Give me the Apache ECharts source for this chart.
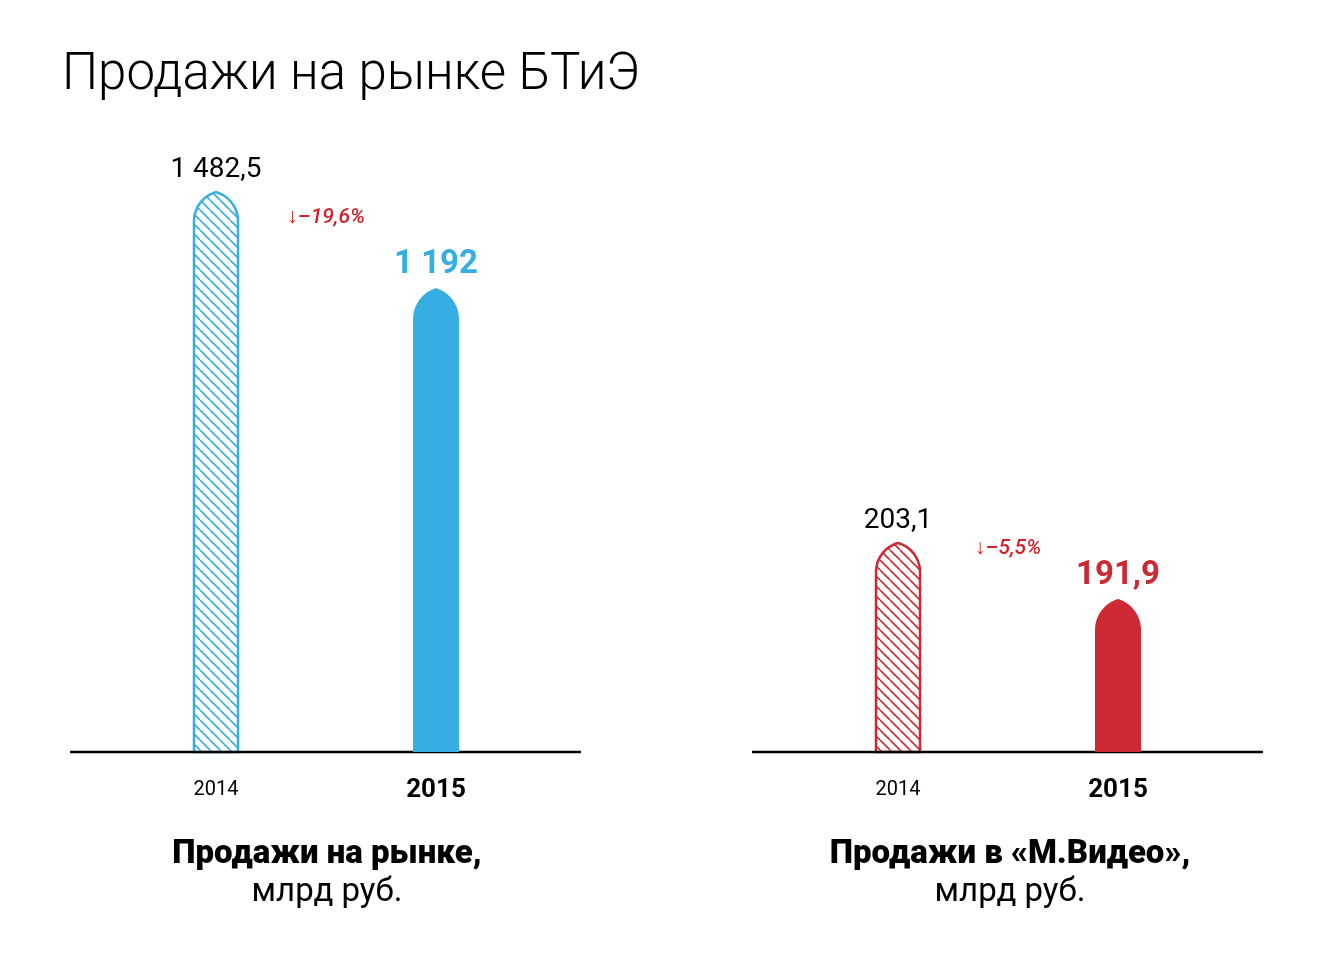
<!DOCTYPE html>
<html>
<head>
<meta charset="utf-8">
<script src="https://cdn.jsdelivr.net/npm/echarts@6/dist/echarts.min.js"></script>
<style>
html, body { margin: 0; background: #fff; }
#chart { width: 1342px; height: 964px; }
</style>
</head>
<body>
<div id="chart"></div>
<script>
var mainTitle = 'Продажи на рынке БТиЭ';
var years = ['2014', '2015'];
var marketSales = [1482.5, 1192];
var mvideoSales = [203.1, 191.9];
var panelTitles = ['Продажи на рынке,', 'Продажи в «М.Видео»,'];
var unitLabel = 'млрд руб.';
// axis ranges (the original chart is not drawn from zero)
var marketRange = [-212, 1610];
var mvideoRange = [161.3, 281.7];

var BLUE = '#36aee2', RED = '#cc2932';
var FONT = 'Roboto, "Noto Sans", sans-serif';

// diagonal hatch for the 2014 bars
function hatch(color) {
  var s = 10;
  var c = document.createElement('canvas');
  c.width = s; c.height = s;
  var ctx = c.getContext('2d');
  ctx.strokeStyle = color;
  ctx.lineWidth = 1.6;
  for (var k = -1; k <= 1; k++) {
    ctx.beginPath();
    ctx.moveTo(k * s, 0);
    ctx.lineTo(k * s + s, s);
    ctx.stroke();
  }
  return c;
}

function fmt(v) {
  var s = v.toFixed(v % 1 ? 1 : 0).replace('.', ',');
  return s.replace(/^(\d)(\d{3})/, '$1 $2');
}

// bar with a pointed top
function archPoints(cx, yTop, yb, w, h) {
  var r = (h * h + w * w / 4) / w;
  var ta = Math.acos((w / 2 - r) / r);
  var x0 = cx - w / 2, x1 = cx + w / 2, ys = yTop + h;
  var pts = [[x0, yb], [x0, ys]];
  var n = 16, k, t;
  for (k = 1; k <= n; k++) {
    t = Math.PI - (Math.PI - ta) * k / n;
    pts.push([x0 + r + r * Math.cos(t), ys - r * Math.sin(t)]);
  }
  for (k = n - 1; k >= 0; k--) {
    t = Math.PI - (Math.PI - ta) * k / n;
    pts.push([x1 - r - r * Math.cos(t), ys - r * Math.sin(t)]);
  }
  pts.push([x1, yb]);
  return pts;
}

function makeRender(color, values) {
  var pattern = hatch(color);
  return function (params, api) {
    var i = params.dataIndex;
    var cs = params.coordSys;
    var p = api.coord([api.value(0), api.value(1)]);
    var cx = p[0], yTop = p[1], yb = cs.y + cs.height;
    var kids = [];
    if (i === 0) {
      kids.push({
        type: 'polygon',
        shape: { points: archPoints(cx, yTop, yb, 44, 29) },
        style: { fill: { image: pattern, repeat: 'repeat' }, stroke: color, lineWidth: 2.5 }
      });
      kids.push({
        type: 'text', x: cx, y: yTop - 22,
        style: { text: fmt(values[i]), fill: '#000', fontSize: 28, fontFamily: FONT,
                 align: 'center', verticalAlign: 'middle' }
      });
      kids.push({
        type: 'line',
        shape: { x1: cs.x - 36, y1: yb, x2: cs.x + cs.width + 35, y2: yb },
        style: { stroke: '#000', lineWidth: 2.5 }
      });
    } else {
      kids.push({
        type: 'polygon',
        shape: { points: archPoints(cx, yTop, yb, 46, 31) },
        style: { fill: color }
      });
      kids.push({
        type: 'text', x: cx, y: yTop - 23,
        style: { text: fmt(values[i]), fill: color, fontSize: 33, fontWeight: 'bold', fontFamily: FONT,
                 align: 'center', verticalAlign: 'middle' }
      });
      var prev = api.coord([i - 1, values[i - 1]]);
      var pct = ((values[i] / values[i - 1] - 1) * 100).toFixed(1).replace('.', ',').replace('-', '–');
      kids.push({
        type: 'text', x: (prev[0] + cx) / 2, y: (prev[1] + yTop) / 2 - 22,
        style: { text: '↓' + pct + '%', fill: '#d0242d', fontSize: 21, fontWeight: 500, fontStyle: 'italic',
                 fontFamily: FONT, align: 'center', verticalAlign: 'middle' }
      });
    }
    return { type: 'group', children: kids };
  };
}

var chart = echarts.init(document.getElementById('chart'));

function xAxisOpt(idx) {
  return {
    type: 'category', gridIndex: idx, data: years,
    axisLine: { show: false }, axisTick: { show: false },
    axisLabel: {
      margin: 23,
      formatter: function (v, i) { return i === 0 ? '{a|' + v + '}' : '{b|' + v + '}'; },
      rich: {
        a: { fontSize: 20, color: '#000', fontFamily: FONT, lineHeight: 30 },
        b: { fontSize: 26, color: '#000', fontWeight: 'bold', fontFamily: FONT, lineHeight: 30 }
      }
    }
  };
}
function yAxisOpt(idx, range) {
  return { type: 'value', gridIndex: idx, min: range[0], max: range[1], show: false };
}
function panelTitle(text, x) {
  return {
    text: text, subtext: unitLabel, left: x, top: 833, textAlign: 'center', itemGap: 5,
    textStyle: { fontSize: 33, fontWeight: 900, color: '#000', fontFamily: FONT },
    subtextStyle: { fontSize: 33, color: '#000', fontFamily: FONT }
  };
}

var option = {
  backgroundColor: '#fff',
  animation: false,
  title: [
    { text: mainTitle, left: 57, top: 46,
      textStyle: { fontSize: 51, fontWeight: 300, color: '#000', fontFamily: FONT } },
    panelTitle(panelTitles[0], 322),
    panelTitle(panelTitles[1], 1005)
  ],
  grid: [
    { left: 106, width: 440, top: 150, bottom: 212 },
    { left: 788, width: 440, top: 150, bottom: 212 }
  ],
  xAxis: [xAxisOpt(0), xAxisOpt(1)],
  yAxis: [yAxisOpt(0, marketRange), yAxisOpt(1, mvideoRange)],
  series: [
    { type: 'custom', name: 'Рынок', xAxisIndex: 0, yAxisIndex: 0, clip: false,
      renderItem: makeRender(BLUE, marketSales),
      data: marketSales.map(function (v, i) { return [i, v]; }) },
    { type: 'custom', name: 'М.Видео', xAxisIndex: 1, yAxisIndex: 1, clip: false,
      renderItem: makeRender(RED, mvideoSales),
      data: mvideoSales.map(function (v, i) { return [i, v]; }) }
  ]
};
chart.setOption(option);
</script>
</body>
</html>
